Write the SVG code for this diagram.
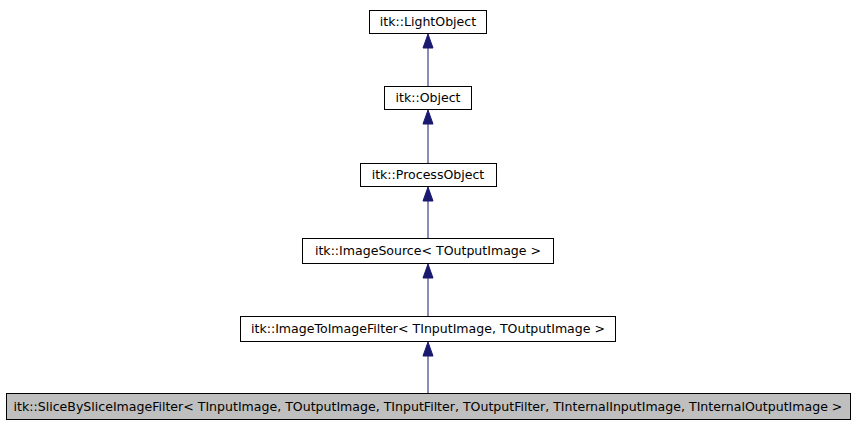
<svg xmlns="http://www.w3.org/2000/svg" width="856" height="427" viewBox="0 0 856 427">
<style>
.b{fill:#fff;stroke:#000;stroke-width:1}
.g{fill:#bfbfbf;stroke:#000;stroke-width:1}
text{font-family:"DejaVu Sans",sans-serif;font-size:12.55px;text-anchor:middle;fill:#000}
.e{stroke:#191970;stroke-width:1;fill:none}
.a{fill:#191970;stroke:#191970}
</style>
<rect width="856" height="427" fill="#fff"/>
<g id="connectors">
<line class="e" x1="428" y1="86" x2="428" y2="47"/><polygon class="a" points="428,34 433,48 423,48"/>
<line class="e" x1="428" y1="163" x2="428" y2="124"/><polygon class="a" points="428,110 433,124 423,124"/>
<line class="e" x1="428" y1="239" x2="428" y2="200"/><polygon class="a" points="428,187 433,201 423,201"/>
<line class="e" x1="428" y1="316" x2="428" y2="277"/><polygon class="a" points="428,264 433,278 423,278"/>
<line class="e" x1="428" y1="393" x2="428" y2="354"/><polygon class="a" points="428,342 433,356 423,356"/>
</g>
<g id="n1"><rect class="b" x="369.5" y="10.5" width="117" height="23"/><text x="428" y="26">itk::LightObject</text></g>
<g id="n2"><rect class="b" x="384.5" y="86.5" width="87" height="23"/><text x="428" y="102">itk::Object</text></g>
<g id="n3"><rect class="b" x="360.5" y="163.5" width="136" height="23"/><text x="428" y="179">itk::ProcessObject</text></g>
<g id="n4"><rect class="b" x="302.5" y="238.5" width="251" height="25"/><text x="428" y="255">itk::ImageSource&lt; TOutputImage &gt;</text></g>
<g id="n5"><rect class="b" x="240.5" y="316.5" width="375" height="25"/><text x="428" y="333">itk::ImageToImageFilter&lt; TInputImage, TOutputImage &gt;</text></g>
<g id="n6"><rect class="g" x="6.5" y="393.5" width="844" height="26"/><text x="428" y="411">itk::SliceBySliceImageFilter&lt; TInputImage, TOutputImage, TInputFilter, TOutputFilter, TInternalInputImage, TInternalOutputImage &gt;</text></g>
</svg>
